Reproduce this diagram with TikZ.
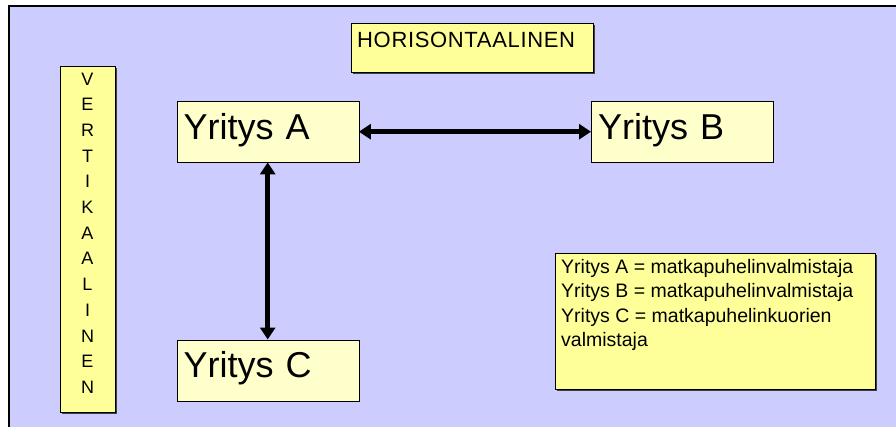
\documentclass[tikz,border=0pt]{standalone}
\usepackage{fontspec}
\setmainfont{Liberation Sans}
\usetikzlibrary{arrows.meta,
                positioning,
                shadows}

\definecolor{lilac}{HTML}{CCCCFF}
\definecolor{paleyellow}{HTML}{FFFFCC}
\definecolor{notepad}{HTML}{FFFF99}

\tikzset{
  firm/.style={draw, fill=paleyellow, anchor=north west,
    minimum width=182pt, minimum height=61pt,
    inner xsep=7pt, inner ysep=0pt, text width=168pt, align=left,
    text height=38pt, text depth=23pt,
    font=\fontsize{36}{43}\selectfont},
  note/.style={draw, fill=notepad, anchor=north west, inner sep=0pt,
    drop shadow={shadow xshift=1.5pt, shadow yshift=-1.5pt,
                 opacity=1, fill=black!75}},
  notetext/.style={inner sep=0pt, align=left},
  link/.style={{Triangle[length=12pt,width=15pt]}-{Triangle[length=12pt,width=15pt]},
    line width=4.5pt}
}

\begin{document}
\begin{tikzpicture}[x=1pt,y=-1pt]
\fill[white] (0,0) rectangle (896,426);
\useasboundingbox (0,0) rectangle (896,426);
\draw[line width=1.2pt, fill=lilac] (9,6) rectangle (910,440);

% otsikkolaatikot
\node[note, minimum width=242pt, minimum height=49pt] (horbox) at (351,23) {};
\node[notetext, anchor=north west,
  font=\fontsize{22}{26}\selectfont\addfontfeature{LetterSpace=3}]
  (hortext) at (357,31.5) {HORISONTAALINEN};

\node[note, minimum width=55pt, minimum height=346pt] (verbox) at (60,66) {};
\node[notetext, align=center, anchor=north, font=\fontsize{18}{25.7}\selectfont]
  (vertext) at (87.5,72.5) {V\\E\\R\\T\\I\\K\\A\\A\\L\\I\\N\\E\\N};

% yritykset
\node[firm] (yritysA) at (176.5,101) {Yritys A};
\node[firm] (yritysB) at (591,101) {Yritys B};
\node[firm] (yritysC) at (176.5,339.5) {Yritys C};

\draw[link] (yritysA.east) -- (yritysB.west);
\draw[link] (yritysA.south) -- (yritysC.north);

% selite
\node[note, minimum width=320pt, minimum height=136pt] (legbox) at (555,253) {};
\node[notetext, anchor=north west, font=\fontsize{19.5}{24.5}\selectfont]
  (legtext) at (561,259) {Yritys A = matkapuhelinvalmistaja\\
  Yritys B = matkapuhelinvalmistaja\\
  Yritys C = matkapuhelinkuorien\\
  valmistaja};
\end{tikzpicture}
\end{document}
